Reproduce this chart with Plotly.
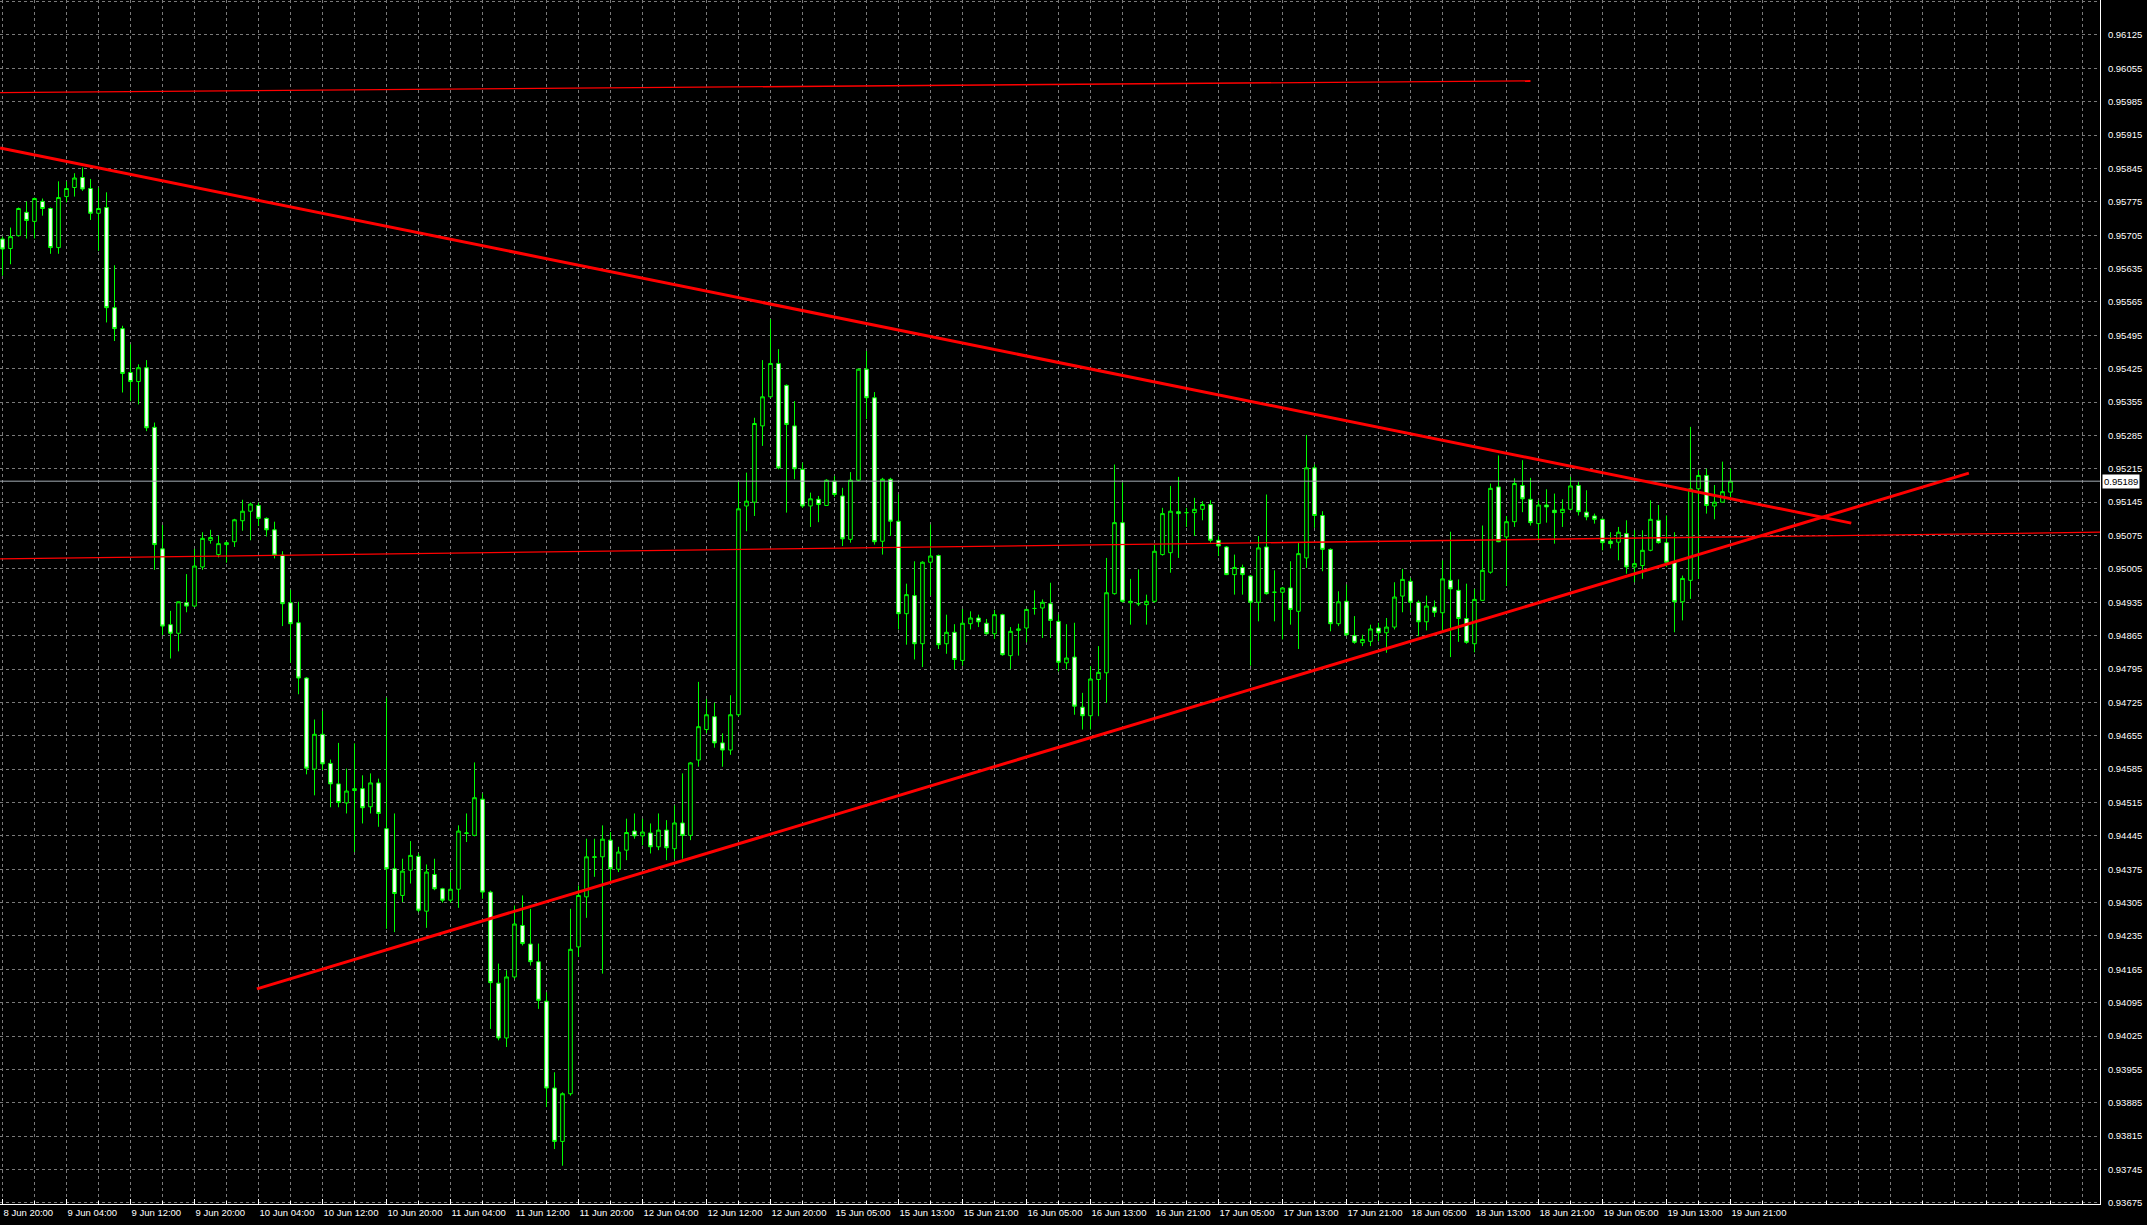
import plotly.graph_objects as go

# ---------------- data (H1 bars) ----------------
opens = [0.95697,0.95677,0.95704,0.95753,0.95734,0.95776,0.95761,0.95679,0.95786,0.95805,
0.95826,0.95803,0.95751,0.95763,0.95553,0.95509,0.95417,0.95398,0.95427,0.95302,
0.95047,0.94888,0.94870,0.94934,0.94927,0.95009,0.95065,0.95035,0.95056,0.95062,
0.95106,0.95126,0.95138,0.95111,0.95087,0.95034,0.94934,0.94892,0.94776,0.94585,
0.94658,0.94597,0.94554,0.94514,0.94540,0.94544,0.94506,0.94556,0.94460,0.94376,
0.94320,0.94373,0.94402,0.94287,0.94364,0.94334,0.94310,0.94333,0.94450,0.94446,
0.94522,0.94327,0.94136,0.94021,0.94149,0.94257,0.94218,0.94181,0.94098,0.93916,
0.93804,0.93904,0.94212,0.94317,0.94401,0.94401,0.94436,0.94375,0.94415,0.94455,
0.94445,0.94451,0.94422,0.94457,0.94418,0.94472,0.94446,0.94604,0.94668,0.94695,
0.94640,0.94625,0.94699,0.95137,0.95145,0.95305,0.95366,0.95436,0.95390,0.95305,
0.95214,0.95137,0.95151,0.95138,0.95189,0.95158,0.95067,0.95191,0.95424,0.95364,
0.95063,0.95193,0.95105,0.94911,0.94949,0.94848,0.95019,0.95033,0.94848,0.94872,
0.94813,0.94890,0.94902,0.94891,0.94869,0.94909,0.94823,0.94876,0.94881,0.94922,
0.94923,0.94932,0.94895,0.94808,0.94820,0.94715,0.94697,0.94773,0.94787,0.94953,
0.95102,0.94934,0.94932,0.94930,0.94937,0.95035,0.95039,0.95125,0.95123,0.95123,
0.95130,0.95140,0.95065,0.95051,0.94993,0.95008,0.94990,0.94935,0.95051,0.94956,
0.94956,0.94965,0.94916,0.95028,0.95217,0.95117,0.95046,0.94890,0.94937,0.94865,
0.94850,0.94853,0.94881,0.94871,0.94883,0.94948,0.94979,0.94935,0.94894,0.94925,
0.94913,0.94981,0.94960,0.94901,0.94848,0.94939,0.94998,0.95177,0.95072,0.95104,
0.95180,0.95151,0.95100,0.95139,0.95128,0.95123,0.95130,0.95180,0.95124,0.95116,
0.95109,0.95063,0.95061,0.95079,0.95009,0.95012,0.95044,0.95107,0.95060,0.95019,
0.94936,0.94981,0.95173,0.95201,0.95137,0.95145,0.95166]

highs = [0.95702,0.95721,0.95763,0.95776,0.95784,0.95782,0.95763,0.95818,0.95818,0.95835,
0.95847,0.95823,0.95805,0.95795,0.95642,0.95515,0.95476,0.95434,0.95443,0.95312,
0.95097,0.94917,0.94936,0.94994,0.95047,0.95082,0.95087,0.95075,0.95062,0.95110,
0.95150,0.95144,0.95144,0.95113,0.95104,0.95042,0.94961,0.94936,0.94778,0.94689,
0.94707,0.94605,0.94640,0.94586,0.94639,0.94572,0.94576,0.94565,0.94735,0.94492,
0.94397,0.94434,0.94408,0.94385,0.94397,0.94336,0.94369,0.94467,0.94492,0.94599,
0.94534,0.94330,0.94177,0.94163,0.94299,0.94320,0.94292,0.94219,0.94117,0.93949,
0.93907,0.94292,0.94341,0.94439,0.94439,0.94467,0.94453,0.94422,0.94481,0.94492,
0.94481,0.94471,0.94492,0.94478,0.94509,0.94576,0.94600,0.94768,0.94732,0.94724,
0.94660,0.94740,0.95189,0.95207,0.95322,0.95443,0.95529,0.95466,0.95392,0.95357,
0.95228,0.95165,0.95158,0.95193,0.95200,0.95175,0.95208,0.95425,0.95462,0.95376,
0.95196,0.95196,0.95161,0.94974,0.95021,0.95021,0.95098,0.95035,0.94909,0.94889,
0.94921,0.94916,0.94909,0.94900,0.94919,0.94911,0.94883,0.94890,0.94921,0.94960,
0.94941,0.94976,0.94909,0.94889,0.94892,0.94745,0.94801,0.94843,0.95028,0.95224,
0.95186,0.94984,0.95004,0.94951,0.95056,0.95133,0.95179,0.95198,0.95133,0.95154,
0.95147,0.95149,0.95075,0.95053,0.95035,0.95014,0.94992,0.95074,0.95161,0.95002,
0.94967,0.95021,0.95060,0.95286,0.95224,0.95126,0.95048,0.94958,0.94972,0.94906,
0.94867,0.94888,0.94892,0.94902,0.94977,0.95005,0.94986,0.94939,0.94949,0.94939,
0.95023,0.95083,0.94983,0.94974,0.94963,0.95096,0.95184,0.95243,0.95116,0.95195,
0.95233,0.95196,0.95149,0.95172,0.95163,0.95151,0.95198,0.95188,0.95170,0.95121,
0.95111,0.95082,0.95093,0.95107,0.95086,0.95086,0.95149,0.95139,0.95117,0.95082,
0.94991,0.95303,0.95212,0.95215,0.95181,0.95230,0.95216]

lows = [0.95620,0.95644,0.95702,0.95698,0.95698,0.95746,0.95666,0.95666,0.95774,0.95786,
0.95798,0.95737,0.95672,0.95522,0.95483,0.95375,0.95357,0.95350,0.95294,0.95003,
0.94866,0.94817,0.94832,0.94914,0.94925,0.95003,0.95058,0.95029,0.95018,0.95051,
0.95085,0.95065,0.95095,0.95073,0.95027,0.94885,0.94808,0.94742,0.94574,0.94530,
0.94583,0.94505,0.94505,0.94492,0.94411,0.94471,0.94492,0.94464,0.94250,0.94243,
0.94306,0.94345,0.94285,0.94252,0.94331,0.94305,0.94305,0.94294,0.94432,0.94444,
0.94313,0.94040,0.94016,0.94002,0.94145,0.94215,0.94173,0.94082,0.93876,0.93788,
0.93753,0.93900,0.94191,0.94273,0.94359,0.94156,0.94348,0.94369,0.94394,0.94439,
0.94425,0.94408,0.94415,0.94394,0.94397,0.94397,0.94436,0.94590,0.94660,0.94630,
0.94590,0.94615,0.94695,0.95084,0.95116,0.95263,0.95364,0.95214,0.95123,0.95193,
0.95133,0.95093,0.95103,0.95137,0.95156,0.95053,0.95060,0.95189,0.95319,0.95056,
0.95035,0.95074,0.94878,0.94846,0.94815,0.94799,0.94949,0.94837,0.94827,0.94794,
0.94802,0.94878,0.94883,0.94867,0.94858,0.94823,0.94795,0.94823,0.94851,0.94909,
0.94860,0.94860,0.94790,0.94794,0.94699,0.94668,0.94668,0.94696,0.94724,0.94951,
0.94934,0.94888,0.94927,0.94888,0.94934,0.95033,0.94997,0.95028,0.95093,0.95074,
0.95107,0.95060,0.95032,0.94992,0.94951,0.94951,0.94802,0.94895,0.94951,0.94895,
0.94857,0.94888,0.94837,0.95007,0.95091,0.95000,0.94874,0.94885,0.94864,0.94848,
0.94843,0.94843,0.94853,0.94829,0.94878,0.94914,0.94914,0.94864,0.94876,0.94904,
0.94876,0.94820,0.94852,0.94848,0.94830,0.94939,0.94995,0.95061,0.94969,0.95093,
0.95124,0.95096,0.95065,0.95102,0.95058,0.95093,0.95128,0.95117,0.95107,0.95100,
0.95044,0.95048,0.95023,0.94995,0.94977,0.94984,0.95042,0.95058,0.95009,0.94872,
0.94897,0.94942,0.94984,0.95121,0.95109,0.95144,0.95155]

closes = [0.95676,0.95702,0.95761,0.95736,0.95782,0.95761,0.95679,0.95784,0.95803,0.95825,
0.95802,0.95751,0.95761,0.95553,0.95509,0.95415,0.95398,0.95427,0.95301,0.95056,
0.94885,0.94870,0.94936,0.94927,0.95011,0.95069,0.95071,0.95058,0.95060,0.95108,
0.95126,0.95141,0.95111,0.95087,0.95034,0.94932,0.94890,0.94776,0.94587,0.94658,
0.94596,0.94554,0.94515,0.94539,0.94544,0.94504,0.94556,0.94492,0.94376,0.94324,
0.94371,0.94404,0.94289,0.94369,0.94334,0.94310,0.94333,0.94455,0.94451,0.94525,
0.94327,0.94137,0.94021,0.94149,0.94260,0.94219,0.94181,0.94100,0.93916,0.93804,
0.93904,0.94207,0.94320,0.94401,0.94400,0.94438,0.94376,0.94411,0.94452,0.94445,
0.94453,0.94422,0.94457,0.94420,0.94472,0.94446,0.94598,0.94674,0.94699,0.94640,
0.94625,0.94699,0.95131,0.95147,0.95310,0.95366,0.95436,0.95217,0.95308,0.95215,
0.95137,0.95152,0.95140,0.95191,0.95161,0.95068,0.95191,0.95424,0.95364,0.95062,
0.95193,0.95105,0.94911,0.94951,0.94848,0.95019,0.95032,0.94846,0.94872,0.94815,
0.94891,0.94902,0.94894,0.94869,0.94909,0.94825,0.94874,0.94879,0.94920,0.94922,
0.94935,0.94897,0.94809,0.94818,0.94717,0.94697,0.94774,0.94788,0.94955,0.95102,
0.94937,0.94937,0.94932,0.94937,0.95042,0.95121,0.95126,0.95121,0.95123,0.95130,
0.95140,0.95065,0.95053,0.94993,0.95008,0.94993,0.94935,0.95049,0.94953,0.94956,
0.94965,0.94920,0.95037,0.95217,0.95117,0.95046,0.94890,0.94936,0.94867,0.94851,
0.94857,0.94879,0.94871,0.94883,0.94946,0.94983,0.94935,0.94894,0.94927,0.94914,
0.94984,0.94963,0.94901,0.94851,0.94941,0.95002,0.95174,0.95062,0.95104,0.95184,
0.95152,0.95102,0.95139,0.95135,0.95123,0.95130,0.95179,0.95125,0.95114,0.95109,
0.95060,0.95058,0.95082,0.95009,0.95016,0.95044,0.95109,0.95060,0.95019,0.94936,
0.94985,0.95173,0.95201,0.95138,0.95145,0.95167,0.95189]

time_labels = ["8 Jun 20:00", "9 Jun 04:00", "9 Jun 12:00", "9 Jun 20:00",
               "10 Jun 04:00", "10 Jun 12:00", "10 Jun 20:00", "11 Jun 04:00",
               "11 Jun 12:00", "11 Jun 20:00", "12 Jun 04:00", "12 Jun 12:00",
               "12 Jun 20:00", "15 Jun 05:00", "15 Jun 13:00", "15 Jun 21:00",
               "16 Jun 05:00", "16 Jun 13:00", "16 Jun 21:00", "17 Jun 05:00",
               "17 Jun 13:00", "17 Jun 21:00", "18 Jun 05:00", "18 Jun 13:00",
               "18 Jun 21:00", "19 Jun 05:00", "19 Jun 13:00", "19 Jun 21:00"]
bars_per_label = 8

# trend lines and levels (bar index, price)
down_trend_idx = [-0.3, 231.1]
down_trend_px = [0.95888, 0.95101]
up_trend_idx = [31.8, 245.8]
up_trend_px = [0.94124, 0.95206]
upper_level_idx = [-0.3, 191.0]
upper_level_px = [0.96004, 0.96029]
lower_level_idx = [-0.3, 262.2]
lower_level_px = [0.95026, 0.95082]
bid_price = 0.95189

price_tick_start = 0.93675
price_tick_step = 0.0007
price_tick_count = 37

# ---------------- figure ----------------
bar_index = list(range(len(opens)))
label_index = [i * bars_per_label for i in range(len(time_labels))]
minor_index = [4 * k for k in range(0, 66)]
price_ticks = [round(price_tick_start + price_tick_step * k, 5) for k in range(price_tick_count)]
price_text = [f"{v:.5f}" for v in price_ticks]

GRID = "#7a7a7a"
GREEN = "#00ff00"

fig = go.Figure()

fig.add_trace(go.Scatter(x=[-1, 270], y=[bid_price, bid_price], mode="lines",
                         line=dict(color="#a4acb4", width=1), hoverinfo="skip"))

fig.add_trace(go.Candlestick(
    x=bar_index, open=opens, high=highs, low=lows, close=closes,
    increasing=dict(line=dict(color=GREEN, width=1), fillcolor="#000000"),
    decreasing=dict(line=dict(color=GREEN, width=1), fillcolor="#ffffff"),
    whiskerwidth=0, hoverinfo="skip"))

for xs, ys, w in [(upper_level_idx, upper_level_px, 1.3),
                  (lower_level_idx, lower_level_px, 1.3),
                  (down_trend_idx, down_trend_px, 3),
                  (up_trend_idx, up_trend_px, 3)]:
    fig.add_trace(go.Scatter(x=xs, y=ys, mode="lines",
                             line=dict(color="#ff0000", width=w), hoverinfo="skip"))

fig.update_layout(
    width=2147, height=1225,
    margin=dict(l=0, r=47, t=0, b=21),
    paper_bgcolor="#000000", plot_bgcolor="#000000",
    showlegend=False,
    boxgap=0.35,
    font=dict(family="Liberation Sans", size=9.5, color="#ffffff"),
)

fig.update_xaxes(
    range=[-0.3125, 262.19],
    tickmode="array", tickvals=label_index, ticktext=time_labels,
    ticks="inside", ticklen=5, tickcolor="#ffffff", tickwidth=1,
    ticklabelposition="outside right",
    tickfont=dict(family="Liberation Sans", size=9.5, color="#ffffff"),
    showgrid=True, gridcolor=GRID, griddash="3px,3px", gridwidth=1,
    minor=dict(tickvals=minor_index, showgrid=True, gridcolor=GRID,
               griddash="3px,3px", gridwidth=1, ticks="inside", ticklen=3,
               tickcolor="#ffffff"),
    showline=True, linecolor="#ffffff", linewidth=1,
    zeroline=False, rangeslider=dict(visible=False),
)

fig.update_yaxes(
    side="right",
    range=[0.936727, 0.961984],
    tickmode="array", tickvals=price_ticks, ticktext=price_text,
    ticks="", ticklabelstandoff=5,
    tickfont=dict(family="Liberation Sans", size=9.5, color="#ffffff"),
    showgrid=True, gridcolor=GRID, griddash="3px,3px", gridwidth=1,
    showline=True, linecolor="#ffffff", linewidth=1,
    zeroline=False,
)

fig.add_annotation(x=1, xref="paper", xanchor="left", xshift=2,
                   y=bid_price, yref="y", yanchor="middle",
                   text=f"{bid_price:.5f}", showarrow=False,
                   bgcolor="#ffffff", borderpad=1,
                   font=dict(family="Liberation Sans", size=9.5, color="#000000"))

fig.write_html("out.html",
               config={"displayModeBar": False},
               post_script="document.body.style.margin='0';document.body.style.background='#000';document.body.style.overflow='hidden';")
